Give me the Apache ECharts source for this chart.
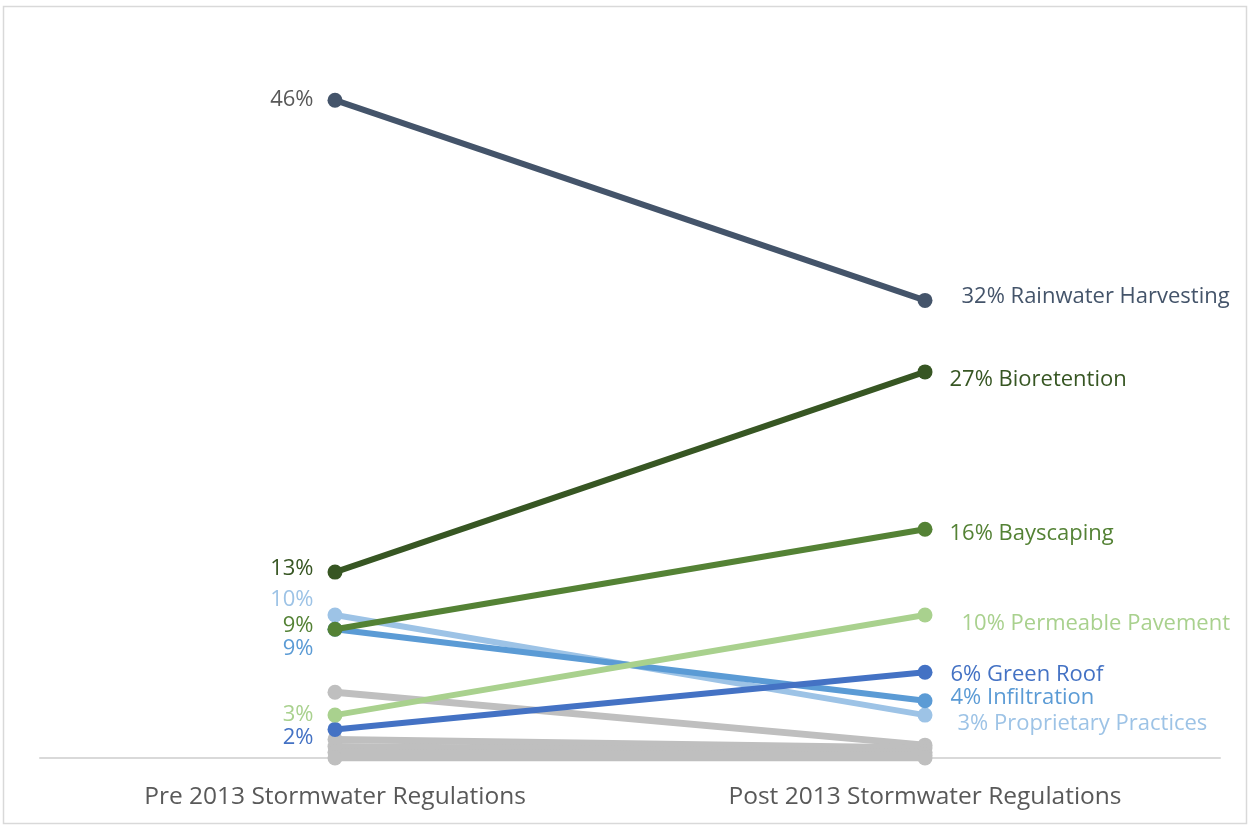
<!DOCTYPE html>
<html>
<head>
<meta charset="utf-8">
<title>Stormwater practices before and after 2013 regulations</title>
<script src="https://cdn.jsdelivr.net/npm/echarts@6/dist/echarts.min.js"></script>
<style>
  html, body { margin: 0; padding: 0; background: #ffffff; }
  #chart { width: 1250px; height: 826px; }
</style>
</head>
<body>
<div id="chart"></div>
<script>
// Periods compared
const categories = ['Pre 2013 Stormwater Regulations', 'Post 2013 Stormwater Regulations'];

// Labelled practices (share of projects, %)
const practices = ['Rainwater Harvesting', 'Bioretention', 'Bayscaping', 'Permeable Pavement', 'Green Roof', 'Infiltration', 'Proprietary Practices'];
const preValues = [46, 13, 9, 3, 2, 9, 10];
const postValues = [32, 27, 16, 10, 6, 4, 3];

// Remaining (unlabelled) practices
const otherPre = [4.6, 1.3, 0.8, 0.4, 0];
const otherPost = [0.9, 0.7, 0.4, 0.2, 0];

const colors = ['#44546a', '#375623', '#548235', '#a9d18e', '#4472c4', '#5b9bd5', '#9dc3e6'];
const labelColors = ['#44546a', '#375623', '#548235', '#a9d18e', '#4472c4', '#5b9bd5', '#9dc3e6'];
const grayColor = '#bfbfbf';

// Per-practice label nudges so stacked labels stay readable
const preLabelOffset = [0, -3, -4, 0, 8, 19, -15];
const postLabelOffset = [-4, 8, 5, 9, 3, -3, 9];
const postLabelDistance = [29, 17, 17, 29, 18, 18, 25];

const FONT = '"Open Sans", Lato, sans-serif';
const LABEL_SIZE = 22;

const series = [];

otherPre.forEach((v, i) => {
  series.push({
    name: 'Other ' + (i + 1),
    type: 'line',
    data: [v, otherPost[i]],
    symbol: 'circle',
    symbolSize: 15,
    z: 1,
    lineStyle: { color: grayColor, width: 7 },
    itemStyle: { color: grayColor },
    emphasis: { disabled: true },
    silent: true
  });
});

practices.forEach((name, i) => {
  series.push({
    name: name,
    type: 'line',
    z: 2 + (practices.length - i),
    symbol: 'circle',
    symbolSize: 15,
    lineStyle: { color: colors[i], width: 6 },
    itemStyle: { color: colors[i] },
    emphasis: { disabled: true },
    data: [
      {
        value: preValues[i],
        label: {
          show: true,
          position: 'left',
          distance: 14,
          offset: [0, preLabelOffset[i]],
          formatter: '{c}%',
          color: i === 0 ? '#595959' : labelColors[i],
          fontSize: LABEL_SIZE,
          fontFamily: FONT
        }
      },
      {
        value: postValues[i],
        label: {
          show: true,
          position: 'right',
          distance: postLabelDistance[i],
          offset: [0, postLabelOffset[i]],
          formatter: (p) => p.value + '% ' + p.seriesName,
          color: labelColors[i],
          fontSize: LABEL_SIZE,
          fontFamily: FONT
        }
      }
    ]
  });
});

const chart = echarts.init(document.getElementById('chart'), null, { renderer: 'canvas' });
chart.setOption({
  animation: false,
  backgroundColor: '#ffffff',
  textStyle: { fontFamily: FONT },
  graphic: [{
    type: 'rect',
    shape: { x: 3.5, y: 6.5, width: 1243, height: 817 },
    style: { fill: 'none', stroke: '#d9d9d9', lineWidth: 1.5 },
    silent: true
  }],
  grid: { left: 40, right: 30, top: 43, bottom: 68 },
  xAxis: {
    type: 'category',
    data: categories,
    boundaryGap: true,
    axisLine: { lineStyle: { color: '#d9d9d9', width: 2 } },
    axisTick: { show: false },
    axisLabel: { color: '#595959', fontSize: 24.5, margin: 27, fontFamily: FONT }
  },
  yAxis: {
    type: 'value',
    min: 0,
    max: 50,
    show: false
  },
  series: series
});
</script>
</body>
</html>
